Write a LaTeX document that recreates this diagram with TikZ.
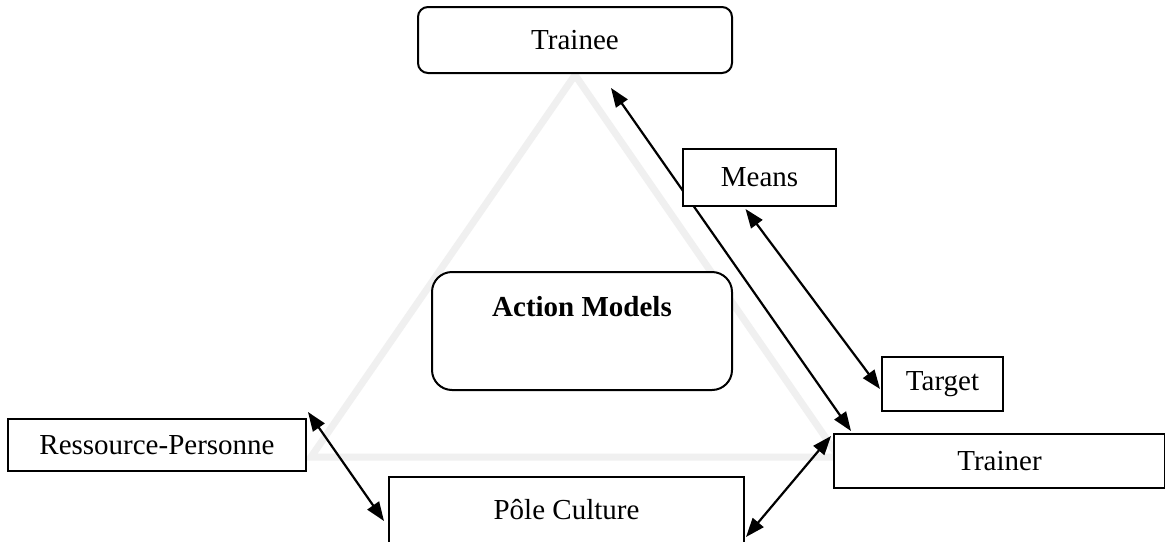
\documentclass[tikz,border=0pt]{standalone}
\usepackage{fontspec}
\setmainfont{Liberation Serif}
\usetikzlibrary{arrows.meta}
\begin{document}
\begin{tikzpicture}[x=1pt,y=-1pt,
  every node/.style={font=\fontsize{29}{34}\selectfont},
  sqbox/.style={draw=black,line width=2pt,fill=white,inner sep=0pt},
  rbox/.style={sqbox,rounded corners=10pt},
  conn/.style={line width=2.2pt,{Triangle[length=19pt,width=14pt]}-{Triangle[length=19pt,width=14pt]}},
  tri/.style={draw=black!6,line width=7pt,line join=miter}
]
\useasboundingbox[fill=white] (0,0) rectangle (1165,541);
% background triangle
\draw[tri] (575,75) -- (311,457) -- (839,457) -- cycle;
% nodes
\node[rbox,minimum width=314pt,minimum height=66pt] (trainee) at (575,40) {Trainee};
\node[rbox,rounded corners=20pt,minimum width=300pt,minimum height=118pt] (am) at (582,331) {};
\node[font=\fontsize{29}{34}\selectfont\bfseries] (amtext) at (582,307) {Action Models};
\node[sqbox,minimum width=121pt,minimum height=54pt] (target) at (942.5,384) {Target};
\node[sqbox,minimum width=331pt,minimum height=54pt] (trainer) at (999.5,461) {Trainer};
\node[sqbox,minimum width=298pt,minimum height=52pt] (rp) at (157,445) {Ressource-Personne};
\node[sqbox,minimum width=355pt,minimum height=66pt] (pole) at (566.5,510) {Pôle Culture};
% connectors
\draw[conn] ([xshift=36pt,yshift=-14pt]trainee.south) -- ([xshift=18pt,yshift=2pt]trainer.north west);
\node[sqbox,minimum width=153pt,minimum height=57pt] (means) at (759.5,177.5) {Means};
\draw[conn] ([xshift=-14pt,yshift=-2pt]means.south) -- ([xshift=-1pt,yshift=-5pt]target.west);
\draw[conn] ([xshift=1pt,yshift=6pt]rp.north east) -- ([xshift=-4pt,yshift=-45pt]pole.north west);
\draw[conn] ([xshift=1pt,yshift=-61pt]pole.north east) -- ([xshift=-2pt,yshift=-3pt]trainer.north west);
\end{tikzpicture}
\end{document}
